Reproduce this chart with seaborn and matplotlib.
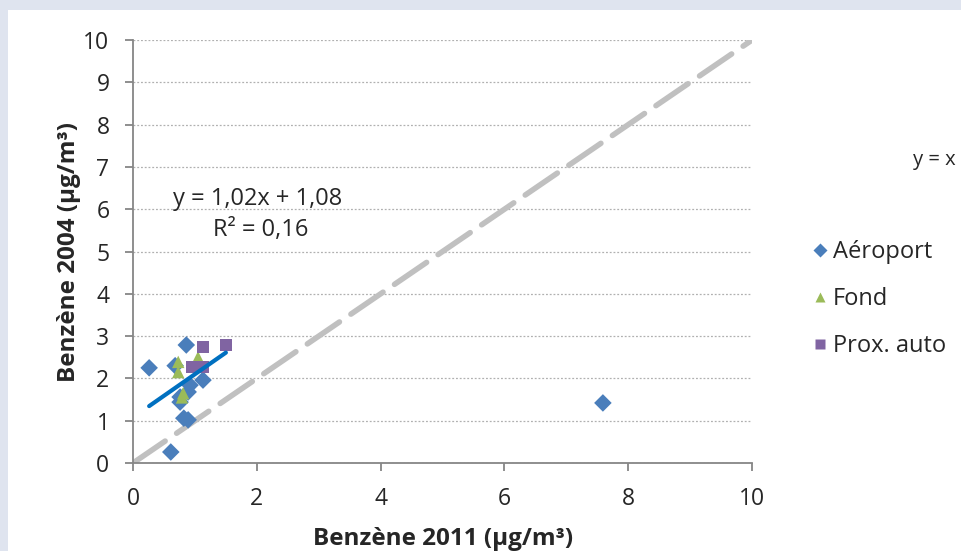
import matplotlib
matplotlib.use("Agg")
import matplotlib.pyplot as plt
import seaborn as sns
import pandas as pd
import numpy as np

# values
aero_x = [0.26, 0.86, 7.59, 0.61, 0.82, 0.89, 0.68, 1.13, 0.92, 0.76, 0.89, 0.76]
aero_y = [2.25, 2.79, 1.42, 0.26, 1.06, 1.02, 2.30, 1.96, 1.84, 1.56, 1.68, 1.44]
fond_x = [0.73, 0.73, 1.05, 0.81, 0.79]
fond_y = [2.39, 2.15, 2.50, 1.65, 1.55]
prox_x = [1.13, 1.50, 0.95, 1.13]
prox_y = [2.74, 2.79, 2.27, 2.27]

categories = ["Aéroport", "Fond", "Prox. auto"]
fit_slope, fit_intercept = 1.02, 1.08
fit_range = [0.26, 1.50]
identity = [0, 10]
x_ticks = [0, 2, 4, 6, 8, 10]
y_ticks = list(range(0, 11))

df = pd.DataFrame({
    "x": aero_x + fond_x + prox_x,
    "y": aero_y + fond_y + prox_y,
    "site": [categories[0]] * len(aero_x) + [categories[1]] * len(fond_x) + [categories[2]] * len(prox_x),
})

sns.set_style("white")
plt.rcParams["font.family"] = ["Open Sans", "DejaVu Sans"]

fig = plt.figure(figsize=(9.62, 5.51), dpi=100, facecolor="#dfe4ef")
# white panel over the pale blue slide background
fig.add_artist(plt.Rectangle((0.008, 0), 1, 0.982, transform=fig.transFigure,
                             facecolor="white", edgecolor="none", zorder=-10))
ax = fig.add_axes([0.1383, 0.1597, 0.6435, 0.7677])
ax.set_facecolor("white")

# y = x reference line
ax.plot(identity, identity, color="#c0c0c0", lw=4, dashes=(7, 2.5),
        dash_capstyle="round", zorder=1)

palette = {"Aéroport": "#4a7ebb", "Fond": "#9bbb59", "Prox. auto": "#8064a2"}
markers = {"Aéroport": "D", "Fond": "^", "Prox. auto": "s"}
sns.scatterplot(data=df, x="x", y="y", hue="site", style="site", hue_order=categories,
                style_order=categories, palette=palette, markers=markers, s=80,
                edgecolor="none", ax=ax, zorder=3, legend=True)

# linear trend line
fx = np.array(fit_range)
ax.plot(fx, fit_slope * fx + fit_intercept, color="#0070c0", lw=3, solid_capstyle="round", zorder=4)

ax.set_xlim(0, 10)
ax.set_ylim(0, 10)
ax.set_xticks(x_ticks)
ax.set_yticks(y_ticks)
ax.yaxis.grid(True, color="#b0b0b0", linestyle=(0, (1.5, 1.5)), lw=0.9)
ax.set_axisbelow(True)
for s in ["top", "right"]:
    ax.spines[s].set_visible(False)
for s in ["left", "bottom"]:
    ax.spines[s].set_color("#868686")
    ax.spines[s].set_linewidth(1.3)
ax.tick_params(axis="both", direction="out", length=6, width=1.3, color="#868686",
               labelsize=16.5, left=True, bottom=True)
ax.tick_params(axis="y", pad=11)
ax.tick_params(axis="x", pad=11)

ax.set_xlabel("Benzène 2011 (µg/m³)", fontsize=17.5, fontweight="bold", labelpad=12)
ax.set_ylabel("Benzène 2004 (µg/m³)", fontsize=17.5, fontweight="bold", labelpad=2)

ax.text(2.02, 6.25, "y = 1,02x + 1,08", fontsize=17, ha="center", va="center")
ax.text(2.07, 5.52, "R² = 0,16", fontsize=17, ha="center", va="center")
fig.text(0.949, 0.71, "y = x", fontsize=14.5, ha="left", va="center")

leg = ax.legend(loc="center left", bbox_to_anchor=(0.818, 0.457), bbox_transform=fig.transFigure,
                frameon=False, fontsize=17, handletextpad=0.05, labelspacing=0.97,
                markerscale=0.75, handlelength=1.0)

fig.savefig("out.png", dpi=100, facecolor=fig.get_facecolor())
